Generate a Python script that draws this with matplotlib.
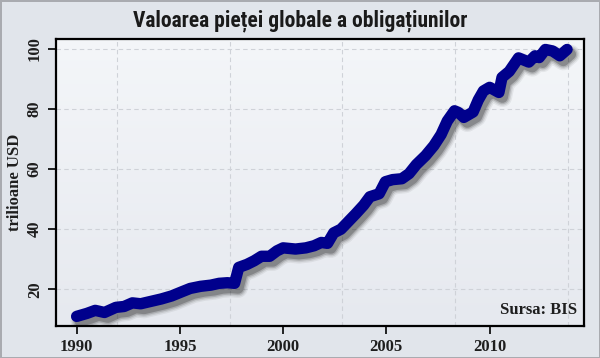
import numpy as np
import matplotlib
matplotlib.use("Agg")
import matplotlib.pyplot as plt
import matplotlib.patheffects as pe
from matplotlib import font_manager

# data (year, trillion USD)
years = [1990.0, 1990.5, 1990.9, 1991.35, 1991.9, 1992.3, 1992.7, 1993.1, 1993.6,
         1994.1, 1994.6, 1995.1, 1995.5, 1996.0, 1996.5, 1996.9, 1997.3, 1997.65,
         1997.85, 1998.25, 1998.6, 1998.95, 1999.35, 1999.7, 2000.0, 2000.6, 2001.1,
         2001.5, 2001.85, 2002.15, 2002.45, 2002.8, 2003.15, 2003.5, 2003.9, 2004.2,
         2004.65, 2004.95, 2005.3, 2005.75, 2006.1, 2006.45, 2006.9, 2007.3, 2007.65,
         2007.95, 2008.3, 2008.5, 2008.75, 2009.2, 2009.45, 2009.7, 2010.0, 2010.45,
         2010.6, 2010.95, 2011.4, 2011.9, 2012.2, 2012.4, 2012.7, 2013.05, 2013.4,
         2013.75]
values = [11.0, 12.0, 13.0, 12.3, 14.0, 14.3, 15.5, 15.2, 16.0,
          16.8, 17.8, 19.2, 20.3, 21.0, 21.4, 22.0, 22.2, 22.0,
          27.3, 28.3, 29.5, 31.0, 31.0, 32.8, 33.8, 33.4, 33.8,
          34.5, 35.6, 35.3, 38.8, 40.0, 42.5, 45.0, 48.0, 50.8,
          51.8, 55.8, 56.5, 56.8, 58.5, 61.5, 64.5, 67.8, 71.5,
          76.0, 79.4, 78.8, 77.2, 79.0, 83.0, 86.0, 87.2, 85.5,
          90.5, 92.5, 97.0, 95.6, 97.7, 97.1, 99.8, 99.3, 97.7,
          99.8]
xticks = [1990, 1995, 2000, 2005, 2010]
yticks = [20, 40, 60, 80, 100]
title = "Valoarea pieței globale a obligațiunilor"
ylabel = "trilioane USD"
source = "Sursa: BIS"

installed = {f.name for f in font_manager.fontManager.ttflist}
title_font = "DejaVu Sans"
for cand in ["Roboto Condensed", "Liberation Sans Narrow", "Open Sans Condensed"]:
    if cand in installed:
        title_font = cand
        break
serif = "Liberation Serif"

fig = plt.figure(figsize=(6, 3.58), dpi=100)
fig.patch.set_facecolor("#e1e5eb")
fig.patch.set_edgecolor("#a9abb0")
fig.patch.set_linewidth(2)

ax = fig.add_axes([0.0933, 0.0902, 0.88, 0.801])

# soft background gradient inside the plot
grad = np.linspace(0, 1, 256).reshape(-1, 1)
ax.imshow(grad, extent=[0, 1, 0, 1], transform=ax.transAxes, aspect="auto",
          cmap=matplotlib.colors.LinearSegmentedColormap.from_list("bg", ["#f4f6f9", "#e6e9ef"]),
          zorder=0)

ax.set_xlim(1989.0, 2014.57)
ax.set_ylim(7.9, 103.3)

for gx in [1991.95, 1997.42, 2002.84, 2008.3, 2013.8]:
    ax.axvline(gx, color="#cfd2d8", lw=0.8, ls=(0, (4, 3)), zorder=1)
for gy in yticks:
    ax.axhline(gy, color="#cfd2d8", lw=0.8, ls=(0, (4, 3)), zorder=1)

# blurred drop shadow built from a few widening layers
shadow = [pe.SimpleLineShadow(offset=(2.5, -3.5), shadow_color="black", alpha=a, linewidth=lw)
          for a, lw in [(0.06, 14), (0.09, 12), (0.14, 10), (0.22, 8)]]
ax.plot(years, values, color="#00008c", lw=8.2, solid_capstyle="round",
        solid_joinstyle="round", zorder=3, path_effects=shadow + [pe.Normal()])

ax.set_xticks(xticks)
ax.set_yticks(yticks)
ax.tick_params(direction="out", length=6, width=1.2, color="black")
for lab in ax.get_xticklabels():
    lab.set_fontfamily(serif)
    lab.set_fontweight("bold")
    lab.set_fontsize(12)
    lab.set_color("#1e1e1e")
for lab in ax.get_yticklabels():
    lab.set_fontfamily(serif)
    lab.set_fontweight("bold")
    lab.set_fontsize(12)
    lab.set_rotation(90)
    lab.set_va("center")
    lab.set_color("#1e1e1e")

for s in ax.spines.values():
    s.set_linewidth(1.6)
    s.set_color("black")

ax.set_ylabel(ylabel, fontfamily=serif, fontweight="bold", fontsize=12, color="#1e1e1e", labelpad=3)
ax.text(0.987, 0.027, source, transform=ax.transAxes, ha="right", va="bottom",
        fontfamily=serif, fontweight="bold", fontsize=12, color="#1e1e1e", zorder=4)

t = fig.text(0.5, 0.942, title, ha="center", va="center", fontfamily=title_font,
             fontstretch="condensed", fontweight="heavy", fontsize=16, color="#1a1a1a")
# fit the title to the width it has in the original (about 334 px)
fig.canvas.draw()
w = t.get_window_extent().width
t.set_fontsize(16 * 334 / w)

fig.savefig("out.png", dpi=100, facecolor=fig.get_facecolor(), edgecolor=fig.get_edgecolor())
